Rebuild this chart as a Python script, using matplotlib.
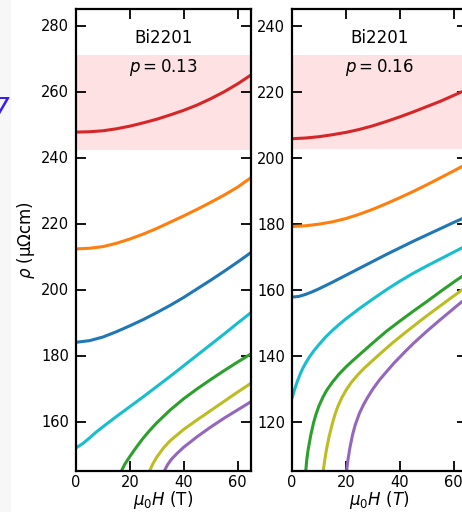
import matplotlib
matplotlib.use('Agg')
import matplotlib.pyplot as plt
from matplotlib.patches import Rectangle

# field values (T) and resistivity (uOhm cm) for each trace, p = 0.13
h13_red = [0, 5, 10, 15, 20, 25, 30, 35, 40, 45, 50, 55, 60, 65]
r13_red = [247.7, 247.8, 248.1, 248.7, 249.5, 250.5, 251.6, 252.9, 254.3, 255.9, 257.8, 259.9, 262.3, 265.0]
h13_orange = [0, 5, 10, 15, 20, 25, 30, 35, 40, 45, 50, 55, 60, 65]
r13_orange = [212.3, 212.5, 213.0, 214.0, 215.3, 216.8, 218.5, 220.4, 222.3, 224.3, 226.4, 228.6, 231.0, 233.9]
h13_blue = [0, 5, 10, 15, 20, 25, 30, 35, 40, 45, 50, 55, 60, 65]
r13_blue = [184.0, 184.5, 185.6, 187.2, 189.0, 190.9, 193.0, 195.2, 197.6, 200.2, 202.8, 205.5, 208.3, 211.2]
h13_cyan = [0, 2.5, 5, 7.5, 10, 15, 20, 25, 30, 35, 40, 45, 50, 55, 60, 65]
r13_cyan = [152.0, 153.3, 155.0, 156.8, 158.4, 161.5, 164.5, 167.5, 170.6, 173.7, 176.9, 180.1, 183.3, 186.5, 189.8, 193.0]
h13_green = [16.9, 18, 20, 22.5, 25, 27.5, 30, 35, 40, 45, 50, 55, 60, 65]
r13_green = [145.0, 146.9, 149.4, 152.3, 155.0, 157.4, 159.6, 163.5, 166.9, 169.9, 172.7, 175.4, 178.0, 180.5]
h13_olive = [27.3, 28.5, 30, 32.5, 35, 40, 45, 50, 55, 60, 65]
r13_olive = [145.0, 147.1, 149.2, 152.0, 154.2, 157.6, 160.5, 163.3, 166.1, 168.9, 171.6]
h13_purple = [32.8, 34, 35.5, 37.5, 40, 45, 50, 55, 60, 65]
r13_purple = [145.0, 146.9, 148.6, 150.3, 152.2, 155.4, 158.3, 161.0, 163.5, 166.0]

# p = 0.16
h16_red = [0, 5, 10, 15, 20, 25, 30, 35, 40, 45, 50, 55, 60, 65]
r16_red = [205.7, 205.9, 206.3, 206.9, 207.6, 208.5, 209.6, 210.9, 212.3, 213.8, 215.4, 217.0, 218.8, 220.6]
h16_orange = [0, 5, 10, 15, 20, 25, 30, 35, 40, 45, 50, 55, 60, 65]
r16_orange = [179.1, 179.3, 179.8, 180.5, 181.5, 182.8, 184.3, 186.0, 187.8, 189.7, 191.7, 193.8, 195.9, 198.1]
h16_blue = [0, 2.5, 5, 7.5, 10, 15, 20, 25, 30, 35, 40, 45, 50, 55, 60, 65]
r16_blue = [157.7, 157.9, 158.5, 159.3, 160.2, 162.2, 164.3, 166.4, 168.5, 170.6, 172.6, 174.6, 176.5, 178.4, 180.3, 182.1]
h16_cyan = [0, 1, 2, 3, 4, 5, 6.5, 8, 10, 12.5, 15, 17.5, 20, 25, 30, 35, 40, 45, 50, 55, 60, 65]
r16_cyan = [127.0, 129.8, 132.2, 134.3, 136.1, 137.6, 139.6, 141.3, 143.3, 145.6, 147.6, 149.4, 151.1, 154.2,
            157.1, 159.9, 162.5, 164.9, 167.1, 169.2, 171.3, 173.4]
h16_green = [5.1, 5.5, 6, 7, 8, 9, 10, 11.5, 13, 15, 17.5, 20, 22.5, 25, 30, 35, 40, 45, 50, 55, 60, 65]
r16_green = [105.0, 108.5, 111.5, 116.0, 119.6, 122.4, 124.7, 127.4, 129.6, 131.9, 134.4, 136.5, 138.4, 140.2,
             143.8, 147.3, 150.4, 153.4, 156.3, 159.3, 162.2, 165.0]
h16_olive = [11.6, 12.2, 12.8, 13.8, 15, 16, 17, 18.5, 20, 22, 24.5, 27, 32, 37, 42, 47, 52, 57, 62, 65]
r16_olive = [105.0, 108.5, 111.5, 115.5, 119.4, 122.2, 124.5, 127.2, 129.4, 131.8, 134.2, 136.3, 140.0, 143.6,
             146.9, 150.1, 153.2, 156.2, 159.2, 160.9]
h16_purple = [20.3, 20.8, 21.5, 22.5, 23.5, 25, 26.5, 28, 30, 32.5, 35, 38, 41.8, 45, 50, 55, 60, 65]
r16_purple = [105.0, 108.5, 112.0, 116.0, 119.0, 122.4, 125.0, 127.2, 129.8, 132.6, 135.0, 137.8, 141.0, 143.6,
              147.3, 150.8, 154.2, 157.6]

colors = ['#d62728', '#ff7f0e', '#1f77b4', '#17becf', '#2ca02c', '#bcbd22', '#9467bd']

panels = [
    dict(p='0.13', ylim=(145, 285), band=(242.3, 271), yticks=[160, 180, 200, 220, 240, 260, 280],
         xlabel=r'$\mu_0H$ (T)',
         curves=[(h13_red, r13_red), (h13_orange, r13_orange), (h13_blue, r13_blue),
                 (h13_cyan, r13_cyan), (h13_green, r13_green), (h13_olive, r13_olive),
                 (h13_purple, r13_purple)]),
    dict(p='0.16', ylim=(105, 245), band=(202.5, 231), yticks=[120, 140, 160, 180, 200, 220, 240],
         xlabel=r'$\mu_0H\ (T)$',
         curves=[(h16_red, r16_red), (h16_orange, r16_orange), (h16_blue, r16_blue),
                 (h16_cyan, r16_cyan), (h16_green, r16_green), (h16_olive, r16_olive),
                 (h16_purple, r16_purple)]),
]

fig = plt.figure(figsize=(4.62, 5.12), dpi=100)

# neighbouring panel edge on the far left
fig.patches.append(Rectangle((0, 0), 11 / 462, 1, transform=fig.transFigure,
                             facecolor='#f7f7f7', edgecolor='none', zorder=0))
fig.text(9 / 462, 1 - 110 / 512, '7', color='#3d1cf0', fontsize=19,
         ha='right', va='center', style='italic')

lefts = [76 / 462, 292 / 462]
for left, pan in zip(lefts, panels):
    ax = fig.add_axes([left, 41 / 512, 175 / 462, 462 / 512])
    ax.axhspan(pan['band'][0], pan['band'][1], color='#fde1e3', lw=0, zorder=0)
    for (h, r), c in zip(pan['curves'], colors):
        ax.plot(h, r, c=c, lw=2.2, solid_capstyle='butt', solid_joinstyle='round')
    ax.set_xlim(0, 65)
    ax.set_ylim(*pan['ylim'])
    ax.set_xticks([0, 20, 40, 60])
    ax.set_yticks(pan['yticks'])
    ax.tick_params(direction='in', top=True, right=True, length=7, width=1.3,
                   labelsize=10.5)
    ax.tick_params(axis='y', pad=5)
    ax.tick_params(axis='x', pad=3)
    for s in ax.spines.values():
        s.set_linewidth(1.6)
    ax.set_xlabel(pan['xlabel'], fontsize=12, labelpad=-1)
    ax.text(0.5, 0.937, 'Bi2201', transform=ax.transAxes, ha='center', va='center', fontsize=12)
    ax.text(0.5, 0.874, r'$p = %s$' % pan['p'], transform=ax.transAxes,
            ha='center', va='center', fontsize=12)
    if left == lefts[0]:
        ax.set_ylabel(r'$\rho$ (μΩcm)', fontsize=12, labelpad=3)

fig.savefig('out.png', dpi=100)
